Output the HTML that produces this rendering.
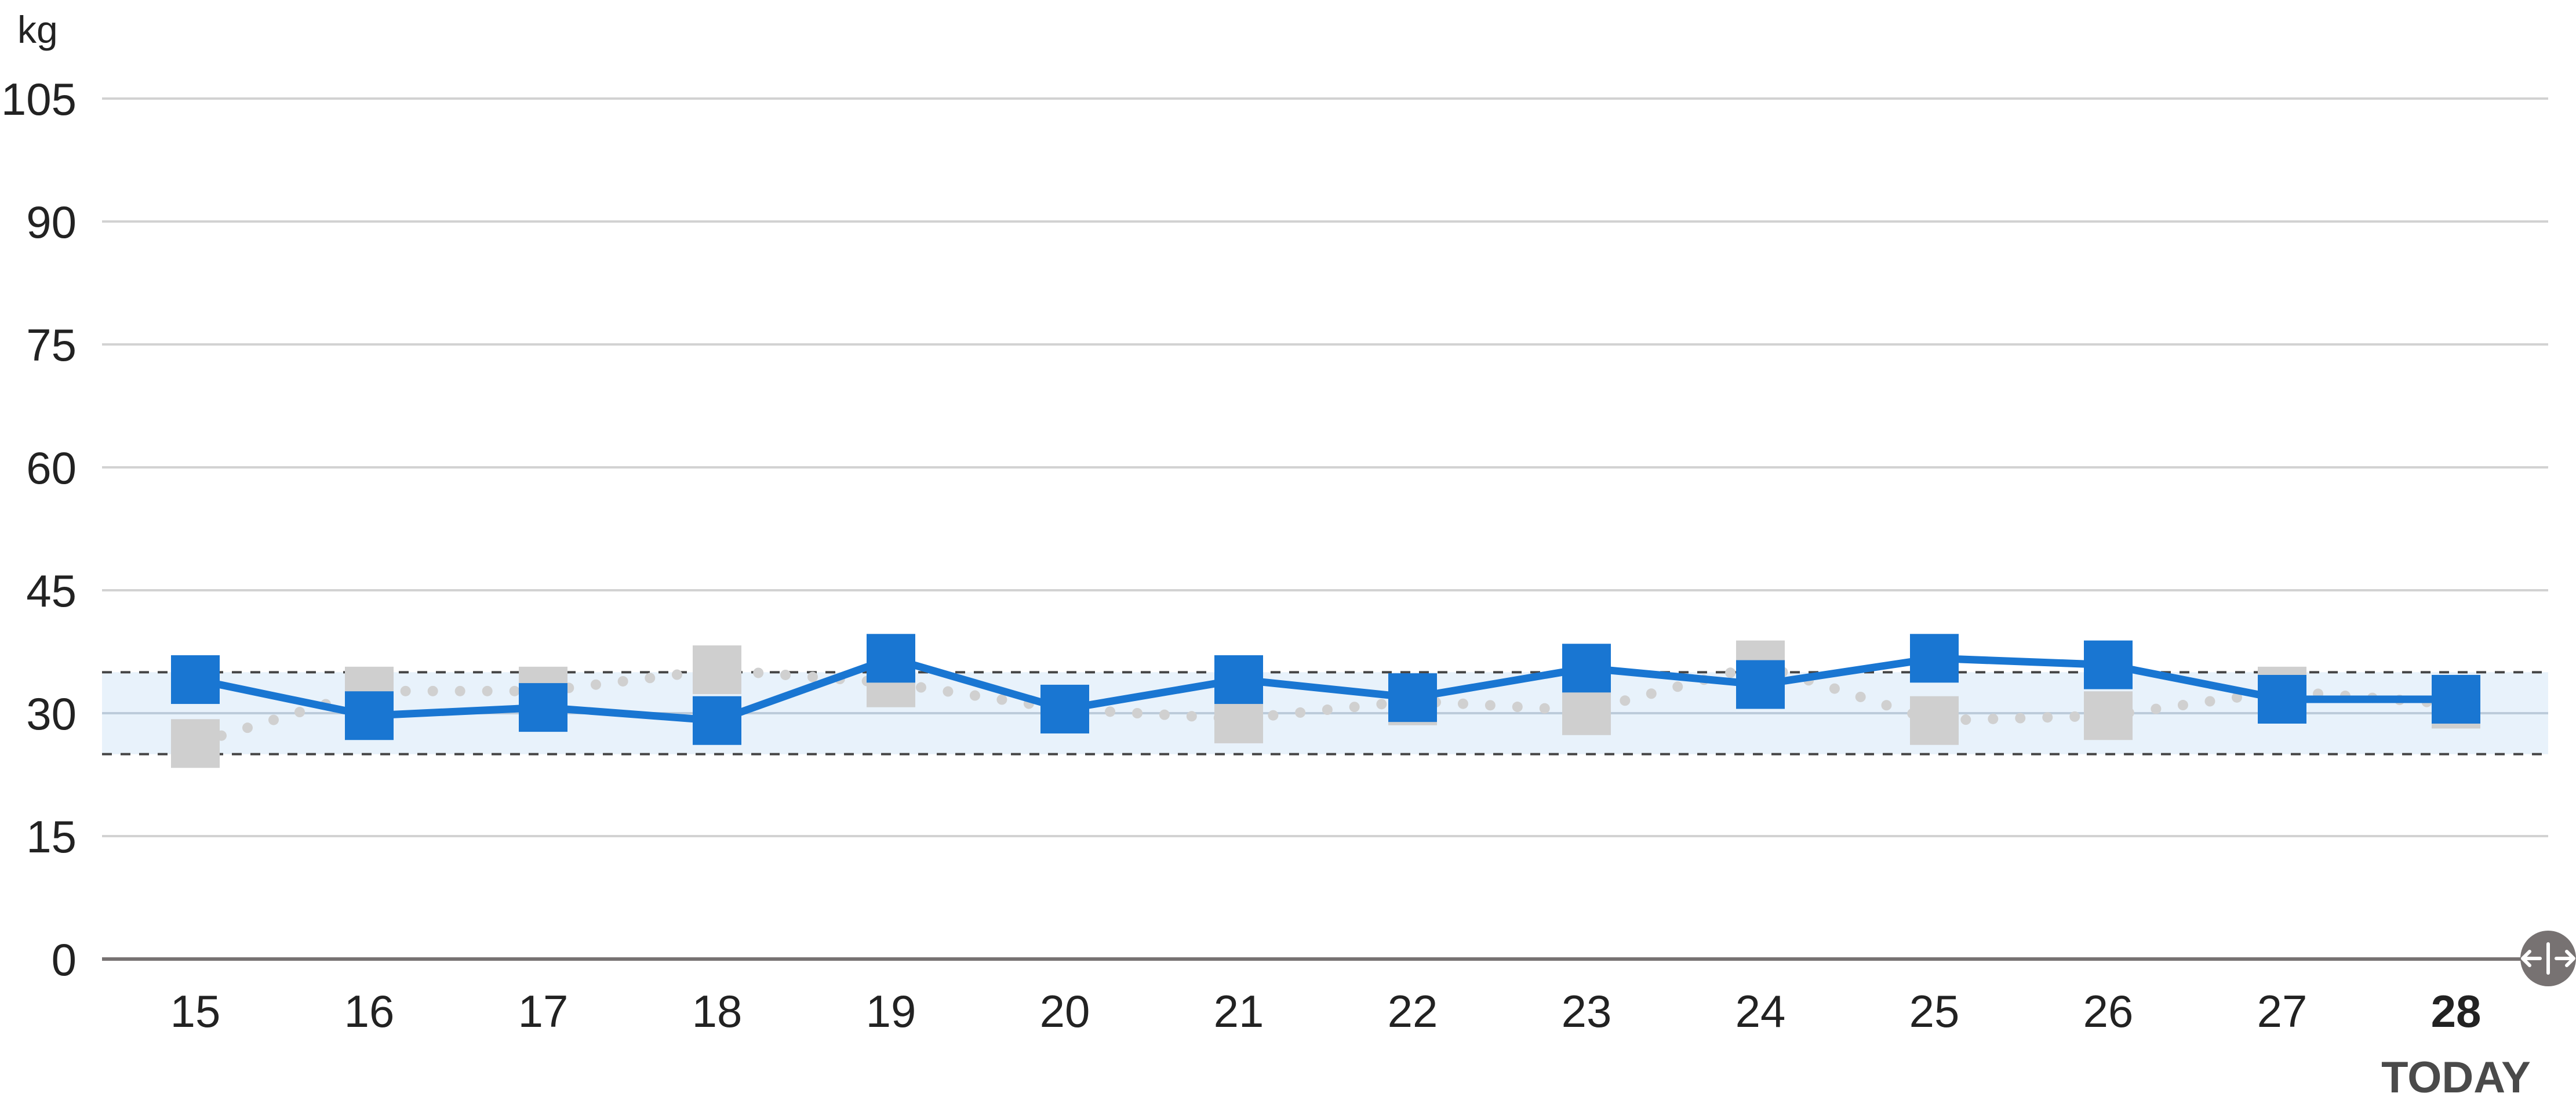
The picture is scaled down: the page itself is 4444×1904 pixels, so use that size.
<!DOCTYPE html>
<html><head><meta charset="utf-8"><style>
html,body{margin:0;padding:0;background:#fff;}
svg{display:block;font-family:"Liberation Sans",sans-serif;}
</style></head><body>
<svg id="chart" width="4444" height="1904" viewBox="0 0 4444 1904" xmlns="http://www.w3.org/2000/svg">
<text x="30" y="74" font-size="66" fill="#222">kg</text>
<g id="grid"></g>
<g id="band"></g>
<g id="ylabels"></g>
<g id="xlabels"></g>
<g id="series"></g>
<g>
<circle cx="4396" cy="1653" r="48" fill="#777272"/>
<line x1="4396" y1="1628" x2="4396" y2="1678" stroke="#fff" stroke-width="6" stroke-linecap="round"/>
<path d="M4382 1653 H4352 M4364 1641 L4352 1653 L4364 1665 M4410 1653 H4440 M4428 1641 L4440 1653 L4428 1665" stroke="#fff" stroke-width="6" fill="none" stroke-linecap="round" stroke-linejoin="round"/>
</g>
</svg>
<script>
const days = ["15","16","17","18","19","20","21","22","23","24","25","26","27","28"];
const weightValues = [34.1,29.7,30.7,29.1,36.7,30.5,34.1,31.9,35.5,33.5,36.7,35.9,31.7,31.7];
const compareValues = [26.3,32.7,32.7,35.3,33.7,30.5,29.3,31.5,30.3,35.9,29.1,29.7,32.7,31.1];
const yTicks = [0,15,30,45,60,75,90,105];
const bandRange = [25,35];
const bandCenter = 30;

const NS="http://www.w3.org/2000/svg";
const X0=337, DX=300, Y0=1654, YS=(1654-170)/105, L=176, R=4396, S=84;
const x=i=>X0+i*DX, y=v=>Y0-v*YS;
function mk(tag,attrs,parent){const e=document.createElementNS(NS,tag);for(const k in attrs)e.setAttribute(k,attrs[k]);parent.appendChild(e);return e;}
const grid=document.getElementById('grid'),band=document.getElementById('band'),yl=document.getElementById('ylabels'),xl=document.getElementById('xlabels'),ser=document.getElementById('series');

yTicks.forEach(t=>{
  if(t!==0){const g=mk('line',{x1:L,x2:R,y1:y(t),y2:y(t),stroke:'#d2d2d2','stroke-width':4},grid);
  
  }
  const tx=mk('text',{x:132,y:y(t)+28,'text-anchor':'end','font-size':78,fill:'#222'},yl);
  tx.textContent=t;
  
  
});
const rect=mk('rect',{x:L,y:y(bandRange[1]),width:R-L,height:y(bandRange[0])-y(bandRange[1]),fill:'#e8f2fb'},band);


const cl=mk('line',{x1:L,x2:R,y1:y(bandCenter),y2:y(bandCenter),stroke:'#bccbda','stroke-width':4},band);


bandRange.forEach(v=>{const d=mk('line',{x1:L,x2:R,y1:y(v),y2:y(v),stroke:'#444','stroke-width':4,'stroke-dasharray':'17 15'},band);

});
const ax=mk('line',{x1:L,x2:R,y1:Y0,y2:Y0,stroke:'#777272','stroke-width':6},grid);



days.forEach((d,i)=>{
  const last=i===days.length-1;
  const t=mk('text',{x:x(i),y:1771,'text-anchor':'middle','font-size':78,fill:'#222','font-weight':last?'bold':'normal'},xl);
  t.textContent=d;
  
  
});
const td=mk('text',{x:x(days.length-1),y:1884,'text-anchor':'middle','font-size':76,fill:'#4a4a4a','font-weight':'bold'},xl);
td.textContent='TODAY';



const cp=mk('polyline',{points:compareValues.map((v,i)=>x(i)+','+y(v)).join(' '),fill:'none',stroke:'#d0d0d0','stroke-width':18,'stroke-linecap':'round','stroke-dasharray':'0 47'},ser);


compareValues.forEach((v,i)=>{const s=mk('rect',{x:x(i)-S/2,y:y(v)-S/2,width:S,height:S,fill:'#cfcfcf'},ser);

});
const wl=mk('polyline',{points:weightValues.map((v,i)=>x(i)+','+y(v)).join(' '),fill:'none',stroke:'#1976d2','stroke-width':13,'stroke-linejoin':'round'},ser);


weightValues.forEach((v,i)=>{const s=mk('rect',{x:x(i)-S/2,y:y(v)-S/2,width:S,height:S,fill:'#1976d2'},ser);

});
</script>
</body></html>
